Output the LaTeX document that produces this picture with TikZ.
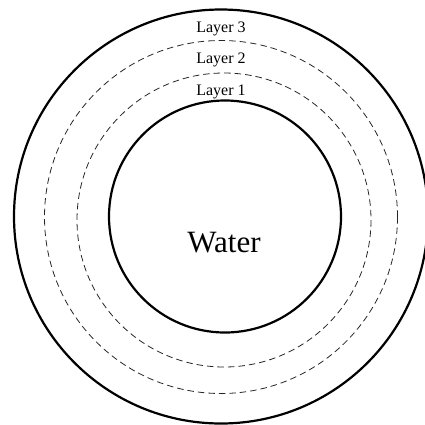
\documentclass[tikz,border=0pt]{standalone}
\usepackage{fontspec}
\setmainfont{Liberation Serif}
\begin{document}
\begin{tikzpicture}[x=1pt,y=-1pt,
  solidring/.style={line width=2.2pt,black},
  dashring/.style={line width=0.8pt,black!85,dash pattern=on 6.5pt off 4pt},
  layerlabel/.style={font=\fontsize{16}{18}\selectfont,inner sep=0pt},
  waterlabel/.style={font=\fontsize{31}{34}\selectfont,inner sep=0pt}]
\useasboundingbox (0,0) rectangle (425,424);
\draw[solidring] (221,216.5) circle (207);
\draw[dashring] (221,217) circle (176.5);
\draw[dashring] (224,220) circle (147);
\draw[solidring] (225,216.5) circle (116);
\node[layerlabel] (l3) at (221,28.5) {Layer 3};
\node[layerlabel] (l2) at (221,59.5) {Layer 2};
\node[layerlabel] (l1) at (221,91.5) {Layer 1};
\node[waterlabel] (water) at (224,243) {Water};
\end{tikzpicture}
\end{document}
